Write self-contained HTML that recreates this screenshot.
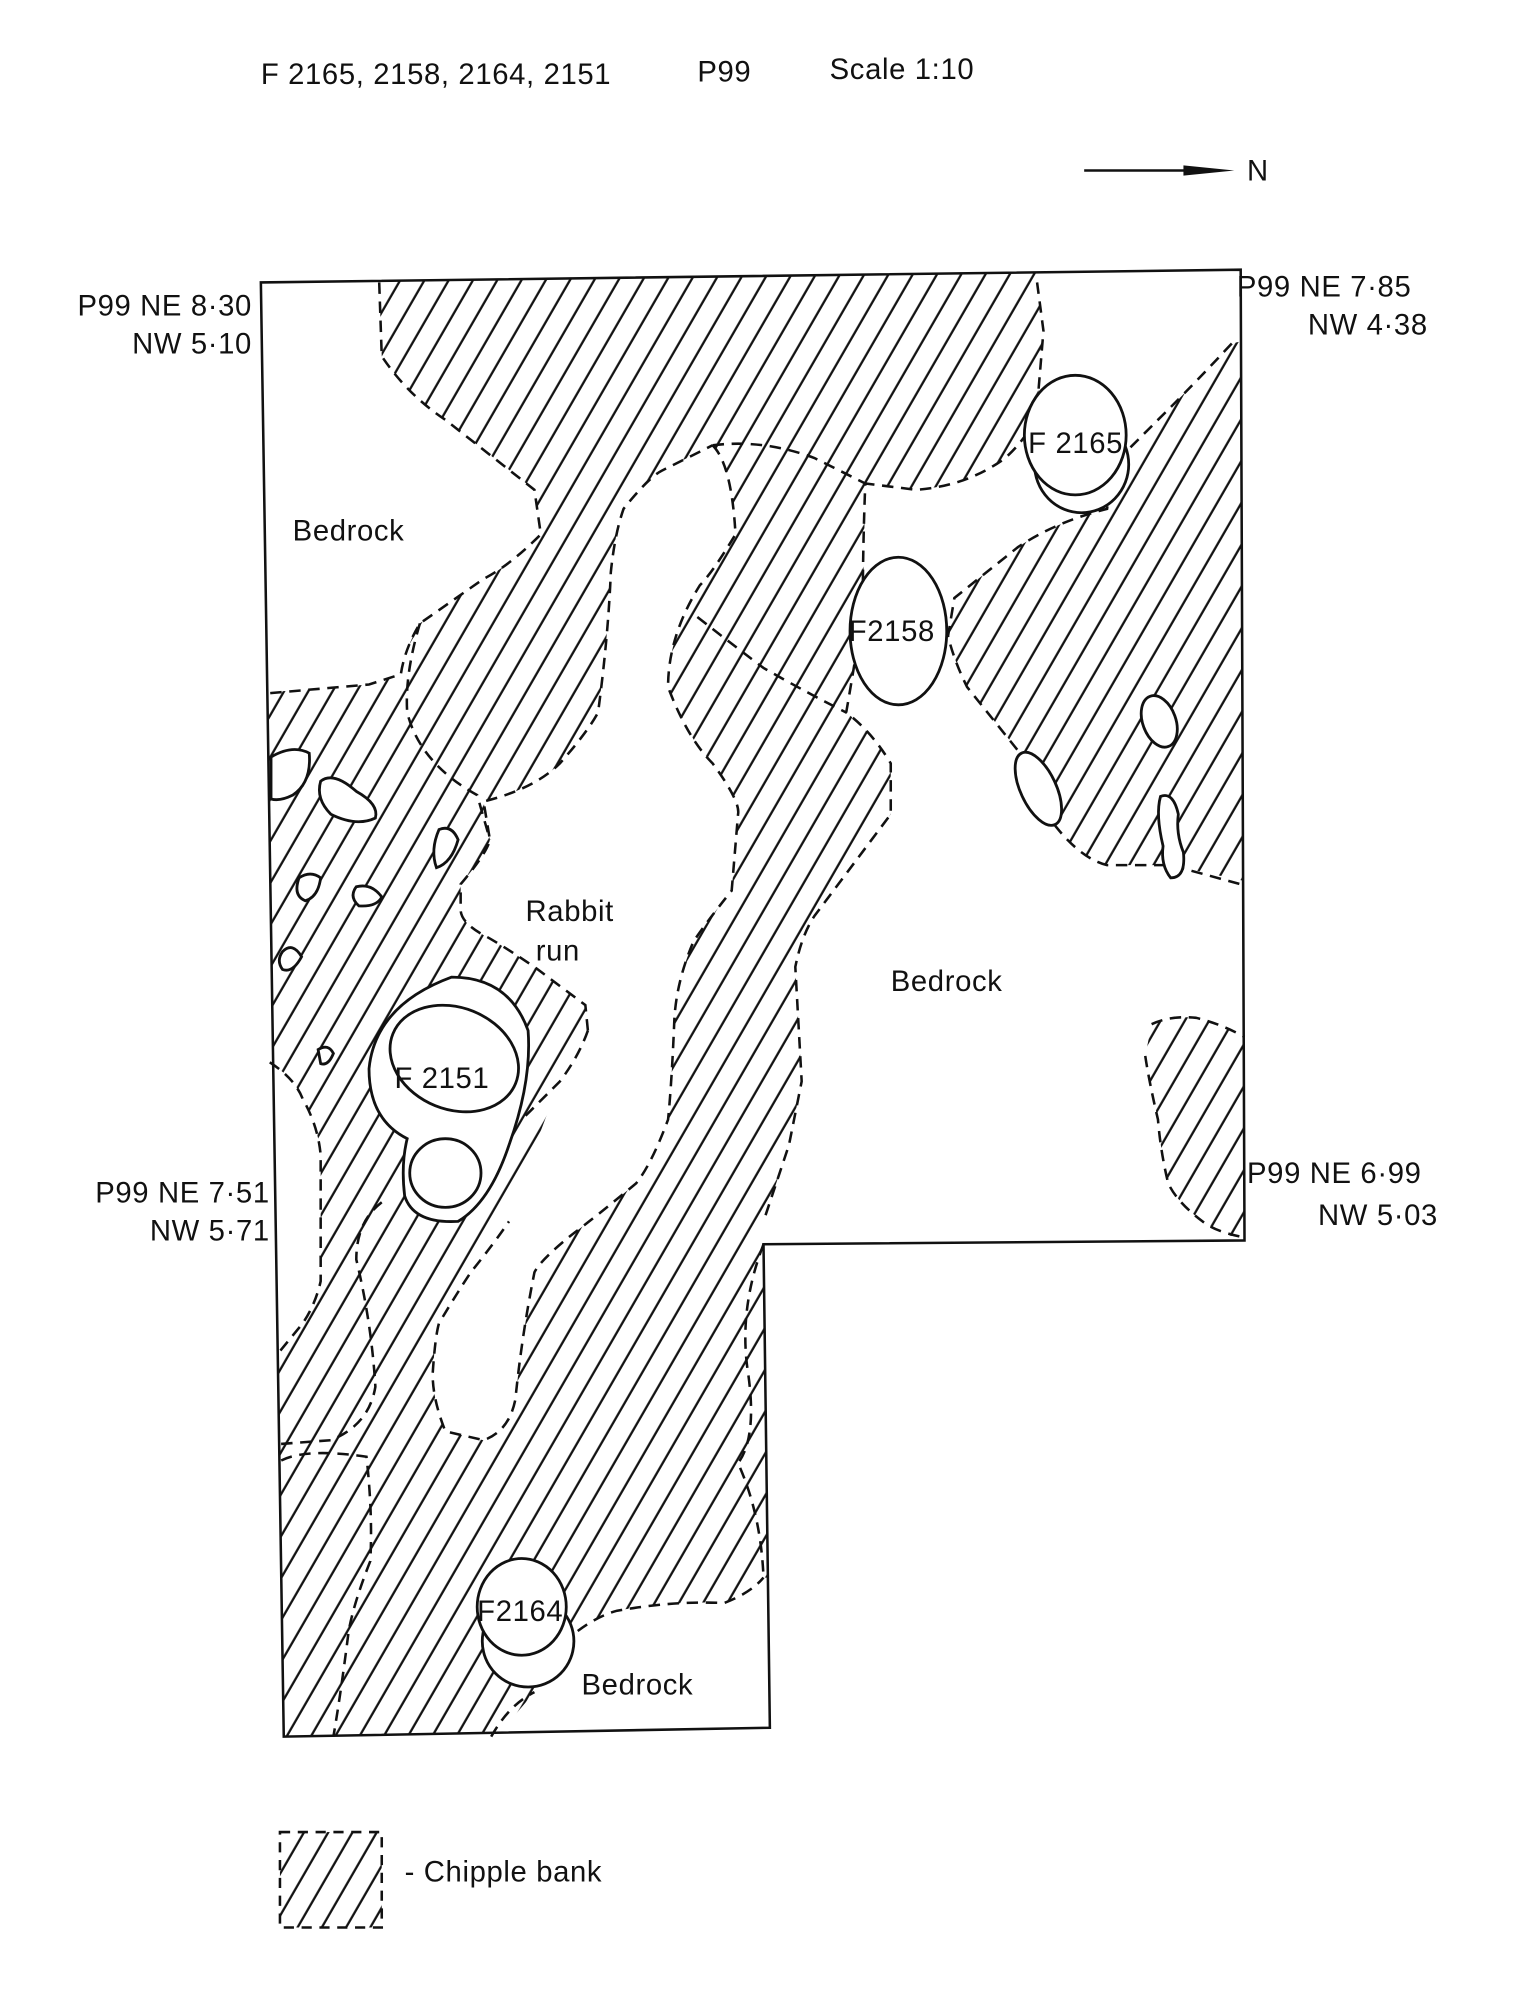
<!DOCTYPE html>
<html><head><meta charset="utf-8"><style>
html,body{margin:0;padding:0;background:#fff;}
svg{display:block;}
text{font-family:"Liberation Sans","DejaVu Sans",sans-serif;fill:#111;letter-spacing:0.5px;}
</style></head><body>
<svg width="1527" height="2000" viewBox="0 0 1200 1572" preserveAspectRatio="none" xmlns="http://www.w3.org/2000/svg">
<defs>
<pattern id="h" patternUnits="userSpaceOnUse" width="16.5" height="40" patternTransform="rotate(30)">
<line x1="3" y1="-5" x2="3" y2="45" stroke="#111" stroke-width="1.8"/>
</pattern>
<clipPath id="site"><path d="M205,222 L975,212 L978,975 L600,978 L605,1358 L223,1365 Z"/></clipPath>
</defs>
<rect width="1200" height="1572" fill="#fff"/>

<g clip-path="url(#site)">
<rect x="200" y="200" width="800" height="1200" fill="url(#h)"/>
<g fill="#fff">
<path d="M200,200 L298,200 L298,222 L300,280 Q320,310 350,330 L420,385 L425,420 Q400,445 380,455 L330,490 Q318,510 315,530 L290,538 L200,545 Z"/>
<path d="M815,200 L990,200 L990,265 L968,270 Q940,300 920,320 L880,360 Q872,385 870,400 Q830,410 800,430 L750,470 L745,500 Q750,520 760,540 L800,590 Q815,630 830,650 Q850,675 870,680 L920,680 L990,695 L990,990 L598,990 L600,960 L620,900 L630,850 L625,760 Q630,735 640,720 L700,640 L700,600 Q685,575 665,560 Q672,520 678,480 L680,380 L720,385 Q760,382 790,360 Q812,340 815,320 L820,260 L815,222 Z"/>
<path d="M560,350 Q575,365 578,420 Q560,450 550,460 Q525,500 525,540 Q540,580 560,600 Q582,630 580,640 L575,700 Q555,725 545,740 Q532,770 530,800 Q528,850 525,880 Q512,915 500,930 Q470,955 450,970 Q425,990 420,1000 Q410,1050 405,1100 Q400,1125 380,1132 L350,1125 Q340,1100 340,1080 Q342,1050 345,1040 Q360,1015 370,1000 Q390,975 400,960 Q420,900 440,850 Q455,825 462,810 L460,790 Q440,775 420,760 Q390,740 380,735 Q362,725 362,715 L362,695 Q383,670 385,660 L380,630 Q420,620 440,600 Q462,575 470,560 Q478,500 480,450 Q483,420 490,400 Q510,375 520,370 Z"/>
<path d="M200,830 L212,835 Q232,848 238,864 Q250,885 252,908 L252,1007 Q248,1025 238,1040 L220,1062 L200,1065 Z"/>
<path d="M386,1370 L420,1330 L454,1282 Q470,1270 485,1266 Q530,1258 569,1260 Q590,1252 600,1240 L610,1240 L610,1370 Z"/>
</g>
<path d="M905,805 Q920,798 940,800 Q960,805 978,815 L978,975 Q955,968 945,960 Q925,945 918,930 Q912,905 910,880 Q903,850 900,830 Z" fill="url(#h)"/>
</g>

<g fill="none" stroke="#111" stroke-width="2" stroke-dasharray="9,6">
<path d="M298,222 L300,280 Q320,310 350,330 L420,385 L425,420 Q400,445 380,455 L330,490 Q318,510 315,530 L290,538 L210,545"/>
<path d="M968,270 Q940,300 920,320 L880,360 Q872,385 870,400 Q830,410 800,430 L750,470 L745,500 Q750,520 760,540 L800,590 Q815,630 830,650 Q850,675 870,680 L920,680 L975,695"/>
<path d="M815,222 L820,260 L815,320 Q812,340 790,360 Q760,382 720,385 L680,380 Q678,430 678,480 Q672,520 665,560 Q685,575 700,600 L700,640 L640,720 Q630,735 625,760 L630,850 L620,900 L600,960"/>
<path d="M560,350 Q600,345 640,360 L680,380"/>
<path d="M560,350 Q575,365 578,420 Q560,450 550,460 Q525,500 525,540 Q540,580 560,600 Q582,630 580,640 L575,700 Q555,725 545,740 Q532,770 530,800 Q528,850 525,880 Q512,915 500,930 Q470,955 450,970 Q425,990 420,1000 Q410,1050 405,1100 Q400,1125 380,1132 L350,1125 Q340,1100 340,1080 Q342,1050 345,1040 Q360,1015 370,1000 Q390,975 400,960"/>
<path d="M462,810 L460,790 Q440,775 420,760 Q390,740 380,735 Q362,725 362,715 L362,695 Q383,670 385,660 L380,630 Q420,620 440,600 Q462,575 470,560 Q478,500 480,450 Q483,420 490,400 Q510,375 520,370 L560,350"/>
<path d="M462,810 Q455,830 440,850 L410,880"/>
<path d="M548,485 Q580,510 600,525 Q635,545 665,560"/>
<path d="M330,490 Q318,530 320,560 Q330,600 375,625 L385,660"/>
<path d="M212,835 Q232,848 238,864 Q250,885 252,908 L252,1007 Q248,1025 238,1040 L220,1062"/>
<path d="M300,945 Q280,960 280,990 Q292,1040 295,1090 Q290,1120 260,1132 L220,1135"/>
<path d="M221,1148 Q240,1138 288,1145 Q293,1190 291,1227 Q278,1260 274,1282 Q268,1330 262,1365"/>
<path d="M386,1365 Q400,1340 420,1330"/>
<path d="M454,1282 Q470,1270 485,1266 Q530,1258 569,1260 Q590,1252 600,1240"/>
<path d="M600,978 Q580,1030 588,1080 Q595,1130 580,1150 Q598,1190 600,1240"/>
<path d="M905,805 Q920,798 940,800 Q960,805 978,815"/>
<path d="M900,830 Q903,850 910,880 Q912,905 918,930 Q925,945 945,960 Q955,968 975,972"/>
</g>

<path d="M205,222 L975,212 L978,975 L600,978 L605,1358 L223,1365 Z" fill="none" stroke="#111" stroke-width="2"/>

<g fill="#fff" stroke="#111" stroke-width="2.2">
<ellipse cx="850" cy="365" rx="37" ry="38"/>
<ellipse cx="845" cy="342" rx="40" ry="47"/>
<ellipse cx="706" cy="496" rx="38" ry="58"/>
<path d="M355,768 Q400,768 415,810 Q418,850 400,900 Q385,945 360,960 Q325,962 318,940 Q315,915 320,895 Q290,880 290,840 Q295,790 355,768 Z"/>
<ellipse cx="357" cy="832" rx="52" ry="40" transform="rotate(22 357 832)"/>
<ellipse cx="350" cy="922" rx="28" ry="27"/>
<ellipse cx="415" cy="1290" rx="36" ry="36"/>
<ellipse cx="410" cy="1263" rx="35" ry="38"/>
<path d="M213,595 Q230,585 243,592 Q245,615 230,625 Q220,630 213,628 Z"/>
<path d="M252,614 Q262,606 280,622 Q298,632 295,643 Q280,650 260,640 Q248,628 252,614 Z"/>
<path d="M345,652 Q355,648 360,660 Q355,678 343,682 Q338,668 345,652 Z"/>
<path d="M235,690 Q244,684 252,690 Q250,705 240,708 Q230,704 235,690 Z"/>
<path d="M280,697 Q292,694 300,705 Q296,713 282,712 Q274,705 280,697 Z"/>
<path d="M222,748 Q230,740 237,752 Q230,765 222,762 Q217,755 222,748 Z"/>
<path d="M250,825 Q258,820 262,828 Q258,838 252,836 Z"/>
<ellipse cx="816" cy="620" rx="14" ry="31" transform="rotate(-25 816 620)"/>
<ellipse cx="911" cy="567" rx="13" ry="21" transform="rotate(-20 911 567)"/>
<path d="M912,626 Q922,622 926,640 Q924,655 930,670 Q932,690 920,690 Q912,680 914,665 Q908,640 912,626 Z"/>
</g>

<g font-size="23">
<text x="205" y="66">F 2165, 2158, 2164, 2151</text>
<text x="548" y="64">P99</text>
<text x="652" y="62">Scale 1:10</text>
<text x="230" y="425">Bedrock</text>
<text x="700" y="779">Bedrock</text>
<text x="457" y="1332">Bedrock</text>
<text x="413" y="724">Rabbit</text>
<text x="421" y="755">run</text>
<text x="808" y="356">F 2165</text>
<text x="667" y="504">F2158</text>
<text x="310" y="855">F 2151</text>
<text x="375" y="1274">F2164</text>
<text x="198" y="248" text-anchor="end">P99 NE 8·30</text>
<text x="198" y="278" text-anchor="end">NW 5·10</text>
<text x="972" y="233">P99 NE 7·85</text>
<text x="1122" y="263" text-anchor="end">NW 4·38</text>
<text x="212" y="945" text-anchor="end">P99 NE 7·51</text>
<text x="212" y="975" text-anchor="end">NW 5·71</text>
<text x="980" y="930">P99 NE 6·99</text>
<text x="1130" y="963" text-anchor="end">NW 5·03</text>
<text x="980" y="142">N</text>
<text x="318" y="1479">- Chipple bank</text>
</g>
<line x1="852" y1="134" x2="940" y2="134" stroke="#111" stroke-width="2"/>
<polygon points="930,130 970,134 930,138" fill="#111"/>

<rect x="220" y="1440" width="80" height="75" fill="url(#h)"/>
<rect x="220" y="1440" width="80" height="75" fill="none" stroke="#111" stroke-width="2" stroke-dasharray="8,6"/>
</svg>
</body></html>
